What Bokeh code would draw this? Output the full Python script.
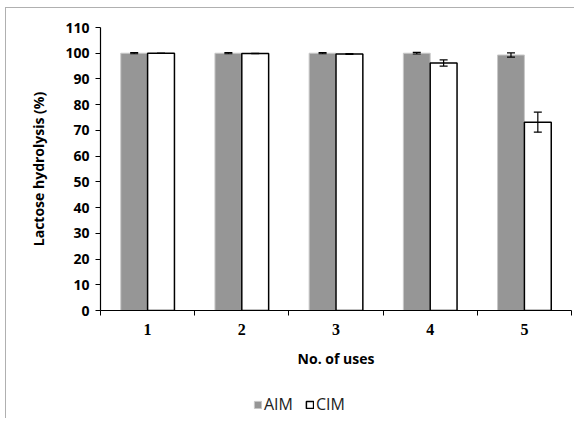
from bokeh.plotting import figure
from bokeh.layouts import column
from bokeh.models import ColumnDataSource, Whisker, FixedTicker, Legend, LegendItem, Range1d
from bokeh.embed import file_html
from bokeh.resources import INLINE

uses = [1, 2, 3, 4, 5]
tick_labels = ["1", "2", "3", "4", "5"]
series_names = ["AIM", "CIM"]
aim = [100.0, 100.0, 100.0, 100.0, 99.3]
aim_err = [0.2, 0.2, 0.2, 0.3, 0.8]
cim = [100.0, 99.9, 99.7, 96.2, 73.2]
cim_err = [0.0, 0.1, 0.2, 1.2, 3.9]

off = 0.1425
bw = 0.285
GRAY = "#969696"
GRAY_EDGE = "#c8c8c8"
FONT = "Open Sans"

src_a = ColumnDataSource(dict(x=[u - off for u in uses], top=aim,
                              lo=[v - e for v, e in zip(aim, aim_err)],
                              hi=[v + e for v, e in zip(aim, aim_err)]))
src_c = ColumnDataSource(dict(x=[u + off for u in uses], top=cim,
                              lo=[v - e for v, e in zip(cim, cim_err)],
                              hi=[v + e for v, e in zip(cim, cim_err)]))

p = figure(width=568, height=370, output_backend="svg", toolbar_location=None,
           x_range=Range1d(0.5, 5.5), y_range=Range1d(0, 110),
           min_border_left=94, min_border_right=3, min_border_top=19, min_border_bottom=68)
p.outline_line_color = None
p.xgrid.visible = False
p.ygrid.visible = False

p.vbar(x="x", top="top", width=bw, bottom=0, source=src_a,
       fill_color=GRAY, line_color=GRAY_EDGE, line_width=1)
p.vbar(x="x", top="top", width=bw, bottom=0, source=src_c,
       fill_color="white", line_color="black", line_width=1.5)

for s in (src_a, src_c):
    w = Whisker(base="x", lower="lo", upper="hi", source=s, line_color="black",
                line_width=1.2, level="overlay")
    w.upper_head.size = 8
    w.lower_head.size = 8
    w.upper_head.line_color = "black"
    w.lower_head.line_color = "black"
    w.upper_head.line_width = 1.2
    w.lower_head.line_width = 1.2
    p.add_layout(w)

# y axis
p.yaxis.ticker = FixedTicker(ticks=list(range(0, 111, 10)))
p.yaxis.major_tick_in = 0
p.yaxis.major_tick_out = 5
p.yaxis.minor_tick_out = 0
p.yaxis.minor_tick_in = 0
p.yaxis.axis_line_color = "black"
p.yaxis.axis_line_width = 1.2
p.yaxis.major_label_text_font = FONT
p.yaxis.major_label_text_font_style = "bold"
p.yaxis.major_label_text_font_size = "14px"
p.yaxis.major_label_text_color = "black"
p.yaxis.major_label_standoff = 6
p.yaxis.axis_label = "Lactose hydrolysis (%)"
p.yaxis.axis_label_text_font = FONT
p.yaxis.axis_label_text_font_style = "bold"
p.yaxis.axis_label_text_font_size = "14px"
p.yaxis.axis_label_text_color = "black"
p.yaxis.axis_label_standoff = 14

# x axis
p.xaxis.ticker = FixedTicker(ticks=uses, minor_ticks=[0.5, 1.5, 2.5, 3.5, 4.5, 5.5])
p.xaxis.major_label_overrides = {u: t for u, t in zip(uses, tick_labels)}
p.xaxis.major_tick_in = 0
p.xaxis.major_tick_out = 0
p.xaxis.minor_tick_in = 0
p.xaxis.minor_tick_out = 5
p.xaxis.axis_line_color = "black"
p.xaxis.axis_line_width = 1.2
p.xaxis.major_label_text_font = "Liberation Serif"
p.xaxis.major_label_text_font_style = "bold"
p.xaxis.major_label_text_font_size = "16px"
p.xaxis.major_label_text_color = "black"
p.xaxis.major_label_standoff = 8
p.xaxis.axis_label = "No. of uses"
p.xaxis.axis_label_text_font = FONT
p.xaxis.axis_label_text_font_style = "bold"
p.xaxis.axis_label_text_font_size = "14px"
p.xaxis.axis_label_text_color = "black"
p.xaxis.axis_label_standoff = 11

# legend strip (hidden proxy renderers carry the legend glyph styles)
p2 = figure(width=568, height=40, output_backend="svg", toolbar_location=None,
            x_range=Range1d(0, 1), y_range=Range1d(0, 1),
            min_border_left=0, min_border_right=0, min_border_top=0, min_border_bottom=0)
p2.xaxis.visible = False
p2.yaxis.visible = False
p2.xgrid.visible = False
p2.ygrid.visible = False
p2.outline_line_color = None
la = p2.vbar(x="x", top="top", width=bw, bottom=0, source=src_a,
             fill_color=GRAY, line_color=GRAY_EDGE, line_width=1, visible=False)
lc = p2.vbar(x="x", top="top", width=bw, bottom=0, source=src_c,
             fill_color="white", line_color="black", line_width=1.5, visible=False)
legend = Legend(items=[LegendItem(label=series_names[0], renderers=[la]),
                       LegendItem(label=series_names[1], renderers=[lc])],
                orientation="horizontal", location=(153, 3),
                label_text_font=FONT, label_text_font_size="16px",
                label_text_color="#222222",
                glyph_width=9, glyph_height=9, spacing=12, label_standoff=2,
                padding=0, margin=0, inactive_fill_alpha=0,
                border_line_color=None, background_fill_alpha=0)
p2.add_layout(legend, "center")

layout = column(p, p2, spacing=0)
layout.styles = {"border-left": "1px solid #b0b0b0", "border-top": "1px solid #b0b0b0",
                 "margin-left": "5px", "margin-top": "7px"}

open("out.html", "w").write(file_html(layout, INLINE))
